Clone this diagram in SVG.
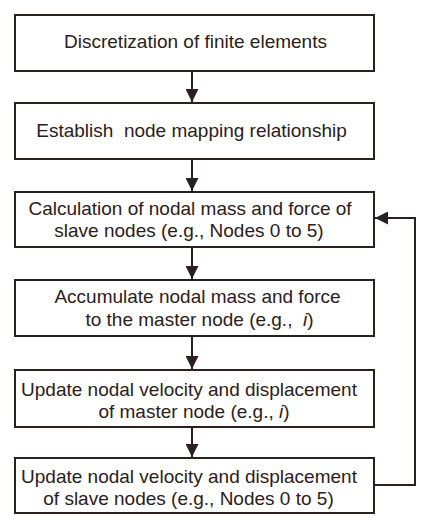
<svg xmlns="http://www.w3.org/2000/svg" width="430" height="523" viewBox="0 0 430 523">
<style>
.box{fill:#fff;stroke:#2b2020;stroke-width:2}
.t{font-family:"Liberation Sans",Arial,sans-serif;font-size:19px;fill:#2b2020;white-space:pre}
.c{fill:none;stroke:#2b2020;stroke-width:2}
</style>
<defs>
<marker id="ah" markerWidth="14" markerHeight="13" refX="13" refY="6.5" orient="auto" markerUnits="userSpaceOnUse">
<path d="M0,0 L13,6.5 L0,13 Z" fill="#2b2020"/>
</marker>
</defs>
<rect width="430" height="523" fill="#fff"/>
<g id="connectors">
<line class="c" x1="192" y1="71" x2="192" y2="102" marker-end="url(#ah)"/>
<line class="c" x1="192" y1="159" x2="192" y2="191" marker-end="url(#ah)"/>
<line class="c" x1="192" y1="247" x2="192" y2="279" marker-end="url(#ah)"/>
<line class="c" x1="192" y1="336" x2="192" y2="369" marker-end="url(#ah)"/>
<line class="c" x1="192" y1="427" x2="192" y2="457" marker-end="url(#ah)"/>
<polyline class="c" points="374,485 415,485 415,218 375,218" marker-end="url(#ah)"/>
</g>
<g id="n1"><rect class="box" x="15" y="15" width="359" height="56"/>
<text class="t" x="195.5" y="48" text-anchor="middle">Discretization of finite elements</text></g>
<g id="n2"><rect class="box" x="15" y="103" width="359" height="56"/>
<text class="t" x="191.5" y="136.5" text-anchor="middle">Establish  node mapping relationship</text></g>
<g id="n3"><rect class="box" x="15" y="192" width="359" height="55"/>
<text class="t" x="190" y="215" text-anchor="middle">Calculation of nodal mass and force of</text>
<text class="t" x="189" y="236.5" text-anchor="middle">slave nodes (e.g., Nodes 0 to 5)</text></g>
<g id="n4"><rect class="box" x="15" y="280" width="359" height="56"/>
<text class="t" x="197.5" y="302.5" text-anchor="middle">Accumulate nodal mass and force</text>
<text class="t" x="199.5" y="325.5" text-anchor="middle">to the master node (e.g.,  <tspan font-style="italic">i</tspan>)</text></g>
<g id="n5"><rect class="box" x="15" y="370" width="359" height="57"/>
<text class="t" x="189" y="396" text-anchor="middle">Update nodal velocity and displacement</text>
<text class="t" x="194" y="417.5" text-anchor="middle">of master node (e.g., <tspan font-style="italic">i</tspan>)</text></g>
<g id="n6"><rect class="box" x="15" y="458" width="359" height="55"/>
<text class="t" x="189" y="482.5" text-anchor="middle">Update nodal velocity and displacement</text>
<text class="t" x="188.5" y="505" text-anchor="middle">of slave nodes (e.g., Nodes 0 to 5)</text></g>
</svg>
